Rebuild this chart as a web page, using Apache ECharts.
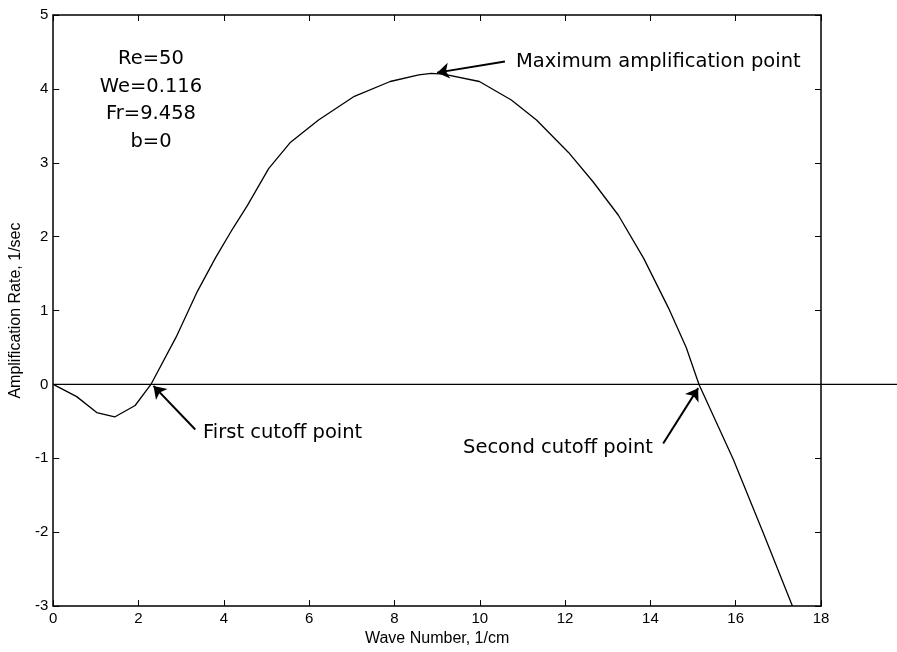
<!DOCTYPE html>
<html><head><meta charset="utf-8">
<script src="https://cdn.jsdelivr.net/npm/echarts@6/dist/echarts.min.js"></script>
<style>html,body{margin:0;padding:0;background:#fff}#c{width:897px;height:652px}</style>
</head><body><div id="c"></div>
<script>
// ---- data ----
const waveNumber = [0, 0.55, 1.02, 1.44, 1.92, 2.29, 2.88, 3.38, 3.80, 4.21, 4.55, 5.05, 5.55, 6.22, 7.06, 7.90, 8.57, 8.86, 9.15, 9.99, 10.74, 11.33, 12.08, 12.66, 13.25, 13.84, 14.42, 14.84, 15.14, 15.94, 16.64, 17.33];
const amplification = [0, -0.165, -0.38, -0.44, -0.285, 0, 0.64, 1.26, 1.71, 2.11, 2.42, 2.92, 3.27, 3.58, 3.90, 4.10, 4.19, 4.21, 4.20, 4.10, 3.85, 3.58, 3.14, 2.74, 2.29, 1.71, 1.04, 0.50, 0, -1.01, -2.0, -3.0];
const baselineY = 0;
const xRange = [0, 18], xStep = 2;
const yRange = [-3, 5], yStep = 1;
const xTitle = 'Wave Number, 1/cm';
const yTitle = 'Amplification Rate, 1/sec';
const paramLines = ['Re=50', 'We=0.116', 'Fr=9.458', 'b=0'];
const annotationText = ['Maximum amplification point', 'First cutoff point', 'Second cutoff point'];
const arrowFrom = [[10.59, 4.37], [3.33, -0.61], [14.30, -0.80]];
const arrowTo = [[9.0, 4.22], [2.35, -0.02], [15.12, -0.05]];

const chart = echarts.init(document.getElementById('c'), null, {renderer: 'canvas'});
const curve = waveNumber.map((x, i) => [x, amplification[i]]);
const black = '#000';
const tickFont = {fontSize: 15, fontFamily: '"Liberation Sans", Arial, sans-serif', color: black};
const textFont = '"DejaVu Sans", Verdana, sans-serif';

function axisCommon(show) {
  return {
    axisLine: {show: true, onZero: false, lineStyle: {color: black, width: 1.5}},
    axisTick: {show: true, inside: true, length: 6, lineStyle: {color: black, width: 1}},
    splitLine: {show: false},
    axisLabel: Object.assign({show: show, margin: 5}, tickFont)
  };
}

function textEl(id, text, x, y, align, extra) {
  return {type: 'text', id: id, silent: true, z: 10,
    style: Object.assign({text: text, x: x, y: y, textAlign: align, textVerticalAlign: 'middle',
      fontSize: 19.5, fontFamily: textFont, fill: black}, extra || {})};
}

const option = {
  animation: false,
  backgroundColor: '#fff',
  grid: {left: 53, right: 76, top: 15, bottom: 40, containLabel: false},
  xAxis: [
    Object.assign({type: 'value', position: 'bottom', min: xRange[0], max: xRange[1], interval: xStep,
      name: xTitle, nameLocation: 'middle', nameGap: 15,
      nameTextStyle: {fontSize: 16, fontFamily: '"Liberation Sans", Arial, sans-serif', color: black}}, axisCommon(true)),
    Object.assign({type: 'value', position: 'top', min: xRange[0], max: xRange[1], interval: xStep}, axisCommon(false))
  ],
  yAxis: [
    Object.assign({type: 'value', position: 'left', min: yRange[0], max: yRange[1], interval: yStep,
      name: yTitle, nameLocation: 'middle', nameGap: 25, nameRotate: 90,
      nameTextStyle: {fontSize: 16, fontFamily: '"Liberation Sans", Arial, sans-serif', color: black}}, axisCommon(true)),
    Object.assign({type: 'value', position: 'right', min: yRange[0], max: yRange[1], interval: yStep}, axisCommon(false))
  ],
  series: [
    {
      type: 'line', data: curve, symbol: 'none', smooth: false,
      lineStyle: {color: black, width: 1.3},
      markLine: {
        silent: true, animation: false,
        symbol: ['none', 'arrow'], symbolSize: 12,
        label: {show: false},
        lineStyle: {color: black, width: 2, type: 'solid'},
        emphasis: {disabled: true},
        data: arrowFrom.map((f, i) => [{coord: f}, {coord: arrowTo[i]}])
      }
    }
  ],
  graphic: [
    textEl('params', paramLines.join('\n'), 151, 100.5, 'center', {lineHeight: 27.5}),
    textEl('a0', annotationText[0], 516, 62, 'left'),
    textEl('a1', annotationText[1], 203, 433, 'left'),
    textEl('a2', annotationText[2], 653, 448, 'right')
  ]
};
chart.setOption(option);

// zero reference line: starts at the y axis and runs past the plot frame to the page edge
const p0 = chart.convertToPixel({xAxisIndex: 0, yAxisIndex: 0}, [xRange[0], baselineY]);
chart.setOption({graphic: [{
  type: 'line', id: 'zeroLine', silent: true, z: 5,
  shape: {x1: p0[0], y1: p0[1], x2: chart.getWidth(), y2: p0[1]},
  style: {stroke: black, lineWidth: 1.2}
}]});
</script></body></html>
